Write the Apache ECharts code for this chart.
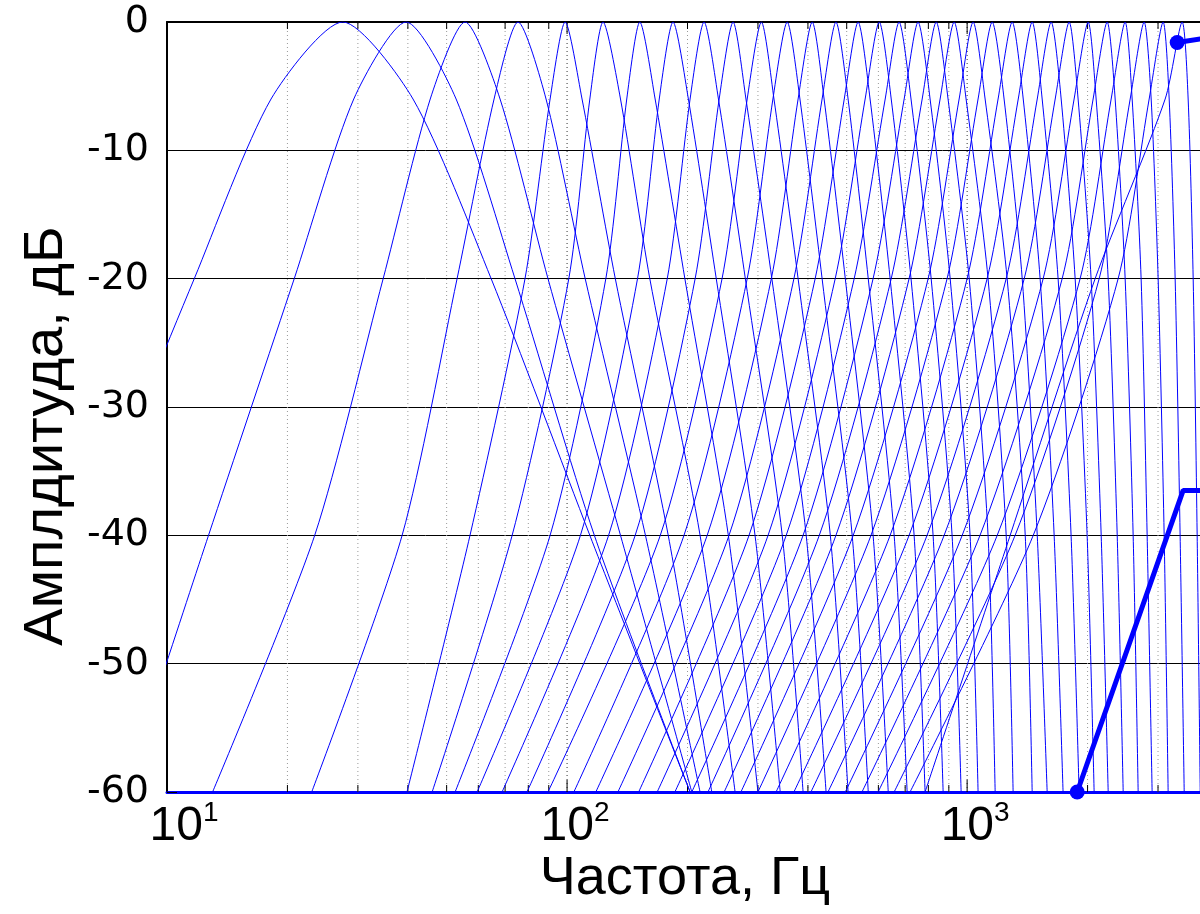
<!DOCTYPE html>
<html><head><meta charset="utf-8">
<script src="https://cdn.jsdelivr.net/npm/echarts@6/dist/echarts.min.js"></script>
<style>html,body{margin:0;padding:0;background:#fff}#c{width:1200px;height:914px}</style>
</head><body><div id="c"></div>
<script>
// dB levels at which each filter's crossing frequencies were read
const levelsDb = [-60, -40, -20, -6, 0, -6, -20, -40, -60];
// crossing frequencies (Hz), one entry per filter
const lo60Hz = [3.49, 7.81, 13.0, 23.0, 39.8, 46.0, 52.5, 59.6, 68.8, 79.4, 89.6, 104, 118, 134, 151, 168, 186, 205, 225, 247, 272, 300, 333, 369, 407, 449, 496, 546, 599, 657, 720, 785];
const lo40Hz = [6.38, 12.7, 23.4, 38.7, 57.2, 72.9, 90.7, 108, 127, 148, 171, 196, 224, 254, 285, 318, 353, 389, 427, 470, 519, 575, 642, 716, 794, 876, 972, 1077, 1189, 1318, 1463, 1281];
const lo20Hz = [11.7, 20.8, 34.7, 53.1, 78.5, 101, 125, 150, 178, 209, 244, 282, 324, 369, 417, 468, 522, 582, 646, 716, 799, 891, 1000, 1122, 1252, 1389, 1549, 1728, 1916, 2138, 2385, 2089];
const lo6Hz  = [18.2, 29.3, 45.5, 65.7, 90.7, 114, 141, 170, 203, 240, 282, 327, 378, 434, 493, 556, 624, 696, 772, 856, 955, 1065, 1195, 1342, 1497, 1660, 1851, 2065, 2291, 2556, 2851, 3126];
const peakHz = [27.5, 39.6, 55.6, 75.4, 98.9, 123, 152, 184, 220, 260, 306, 355, 410, 470, 534, 603, 676, 754, 837, 928, 1035, 1155, 1296, 1454, 1622, 1799, 2007, 2239, 2483, 2770, 3090, 3447];
const hi6Hz  = [41.2, 52.8, 68.0, 88.6, 109, 136, 166, 201, 239, 280, 329, 382, 439, 504, 572, 646, 724, 808, 896, 994, 1109, 1237, 1381, 1540, 1718, 1894, 2101, 2344, 2585, 2884, 3199, 3568];
const hi20Hz = [64.6, 74.1, 89.6, 111, 132, 161, 197, 236, 279, 325, 378, 434, 496, 566, 642, 724, 813, 907, 1012, 1128, 1259, 1373, 1522, 1688, 1862, 2041, 2252, 2483, 2722, 3002, 3311, 3673];
const hi40Hz = [114, 117, 136, 157, 179, 215, 253, 295, 345, 396, 455, 516, 582, 657, 737, 822, 917, 1017, 1128, 1252, 1397, 1497, 1650, 1819, 1995, 2163, 2372, 2600, 2818, 3108, 3407, 3758];
const hi60Hz = [203, 203, 205, 215, 230, 263, 300, 341, 389, 444, 504, 566, 635, 708, 785, 871, 966, 1065, 1175, 1303, 1454, 1585, 1737, 1905, 2077, 2252, 2455, 2676, 2900, 3180, 3488, 3825];

// thick marked lines: [Hz, dB]
const thickLowHz = [1884, 3467, 4500];
const thickLowDb = [-60, -36.5, -36.5];
const thickTopHz = [3350, 4050];
const thickTopDb = [-1.6, -1.2];

// axis ticks
const decadeHz = [10, 100, 1000];
const minorHz = [20, 30, 40, 50, 60, 70, 80, 90, 200, 300, 400, 500, 600, 700, 800, 900, 2000, 3000];

const FONT_T = "'Liberation Sans', Arial, sans-serif";
const chart = echarts.init(document.getElementById('c'), null, {renderer: 'canvas'});

const series = [];
series.push({
  type: 'custom', silent: true, z: 1,
  data: decadeHz.concat(minorHz).map(v => [v, -60]),
  encode: {x: 0, y: 1},
  renderItem: (params, api) => {
    const v = api.value(0);
    const b = api.coord([v, -60]);
    const t = api.coord([v, 0]);
    const major = decadeHz.indexOf(v) >= 0;
    const len = major ? 12 : 7;
    const ch = [];
    if (v > 10) ch.push({type: 'line', shape: {x1: b[0], y1: b[1], x2: t[0], y2: t[1]}, style: {stroke: major ? '#333' : '#999', lineWidth: 1, lineDash: [1, 3]}});
    ch.push({type: 'line', shape: {x1: b[0], y1: b[1], x2: b[0], y2: b[1] - len}, style: {stroke: '#000', lineWidth: 1}});
    ch.push({type: 'line', shape: {x1: t[0], y1: t[1], x2: t[0], y2: t[1] + len}, style: {stroke: '#000', lineWidth: 1}});
    return {type: 'group', children: ch};
  }
});

for (let i = 0; i < peakHz.length; i++) {
  const xs = [lo60Hz[i], lo40Hz[i], lo20Hz[i], lo6Hz[i], peakHz[i], hi6Hz[i], hi20Hz[i], hi40Hz[i], hi60Hz[i]];
  series.push({
    type: 'line', silent: true, z: 3, symbol: 'none', smooth: 0.25, clip: true,
    data: xs.map((f, j) => [f, levelsDb[j]]),
    lineStyle: {color: '#0000ff', width: 1}
  });
}

series.push({
  type: 'line', silent: true, z: 5, clip: true,
  data: thickLowHz.map((f, j) => ({value: [f, thickLowDb[j]], symbol: j === 0 ? 'circle' : 'none'})),
  symbolSize: 15, lineStyle: {color: '#0000ff', width: 5}, itemStyle: {color: '#0000ff'}
});
series.push({
  type: 'line', silent: true, z: 5, clip: true,
  data: thickTopHz.map((f, j) => ({value: [f, thickTopDb[j]], symbol: j === 0 ? 'circle' : 'none'})),
  symbolSize: 15, lineStyle: {color: '#0000ff', width: 5}, itemStyle: {color: '#0000ff'}
});

chart.setOption({
  animation: false,
  backgroundColor: '#fff',
  grid: {left: 167, top: 22, width: 1041, height: 770, containLabel: false, outerBoundsMode: 'none'},
  xAxis: [{
    type: 'log', logBase: 10, min: 10, max: 4000, position: 'bottom',
    axisLine: {onZero: false, lineStyle: {color: '#0000ff', width: 3}},
    axisTick: {show: false}, splitLine: {show: false}, minorTick: {show: false},
    axisLabel: {
      margin: 7, color: '#000', showMaxLabel: false, padding: [0, 0, 0, 16],
      formatter: v => {
        const e = Math.round(Math.log10(v));
        return (e === 1 ? '{sp| }' : '') + '{b|10}{s|' + e + '}';
      },
      rich: {
        sp: {width: 18, fontSize: 10, lineHeight: 52},
        b: {fontSize: 48, fontFamily: FONT_T, color: '#000', verticalAlign: 'bottom', lineHeight: 52},
        s: {fontSize: 28, fontFamily: FONT_T, color: '#000', verticalAlign: 'top', lineHeight: 52}
      }
    }
  }, {
    type: 'log', logBase: 10, min: 10, max: 4000, position: 'top',
    axisLine: {onZero: false, lineStyle: {color: '#000', width: 2}},
    axisTick: {show: false}, axisLabel: {show: false}, splitLine: {show: false}
  }],
  yAxis: {
    type: 'value', min: -60, max: 0, interval: 10,
    axisLine: {show: true, onZero: false, lineStyle: {color: '#000', width: 2}},
    axisTick: {show: true, inside: true, length: 10, lineStyle: {color: '#000'}},
    splitLine: {show: true, lineStyle: {color: '#000', width: 1}},
    axisLabel: {margin: 18, color: '#000', fontSize: 38, fontFamily: "'DejaVu Sans', sans-serif"}
  },
  graphic: [
    {type: 'text', x: 685, y: 879, silent: true,
     style: {text: 'Частота, Гц', fontSize: 54, fontFamily: FONT_T, fill: '#000', align: 'center', verticalAlign: 'middle'}},
    {type: 'text', x: 47, y: 436, rotation: Math.PI / 2, silent: true,
     style: {text: 'Амплдитуда, дБ', fontSize: 56, fontFamily: FONT_T, fill: '#000', align: 'center', verticalAlign: 'middle'}}
  ],
  series: series
});
</script></body></html>
